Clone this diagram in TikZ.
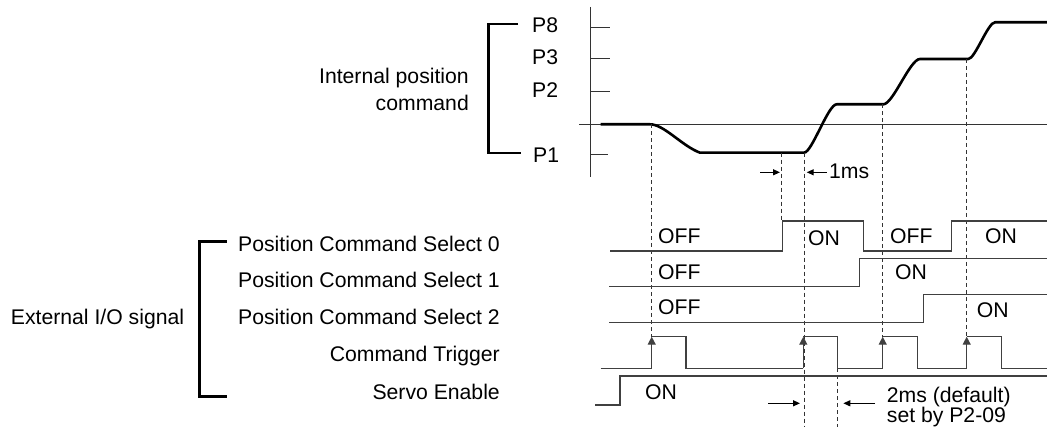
\documentclass[tikz,border=0pt]{standalone}
\usepackage{fontspec}
\setmainfont{Liberation Sans}
\usetikzlibrary{arrows.meta}
\begin{document}
\begin{tikzpicture}[x=1pt,y=-1pt,every node/.style={font=\fontsize{21.2}{24}\selectfont,inner sep=0pt},
  sig/.style={line width=1.3pt,black!75},
  guide/.style={line width=1pt,black!80,dash pattern=on 4pt off 3pt},
  brack/.style={line width=2.4pt},
  gap/.style={line width=1.2pt,-{Triangle[length=7pt,width=6pt]}},
  trig/.style={line width=1.3pt,black!75,-{Triangle[length=8pt,width=8pt]}}]
  \useasboundingbox (0,0) rectangle (1047,427);
  \node[anchor=base east] (ipc1) at (469,83.3) {Internal position};
  \node[anchor=base east] (ipc2) at (469,110.7) {command};
  \draw[brack] (518,24)--(488.3,24)--(488.3,153)--(520.7,153);
  \node[anchor=base west] (p8) at (532,32.3) {P8};
  \node[anchor=base west] (p3) at (532,64.3) {P3};
  \node[anchor=base west] (p2) at (532,97.3) {P2};
  \node[anchor=base west] (p1) at (533,162.3) {P1};
  \draw[line width=0.9pt,black!80] (590.7,7)--(590.7,177);
  \foreach \ty/\tx in {27.3/610,58/610,91.7/610,154/608}
    \draw[line width=0.9pt,black!80] (590.7,\ty)--(\tx,\ty);
  \draw[line width=0.9pt,black!80] (579,124.3)--(1047,124.3);
  \draw[line width=2.6pt,line join=round] (600.7,124.3)--(650,124.3)
    .. controls (664,124.3) and (682,146) .. (700,152.7)--(804,152.7)
    .. controls (812,152.7) and (828,104.3) .. (836.7,104.3)--(883.3,104.3)
    .. controls (893,104.3) and (910,59) .. (920,59)--(968.3,59)
    .. controls (975,59) and (988,22.3) .. (995,22.3)--(1047,22.3);
  \draw[guide] (651.7,124.3)--(651.7,336.7);
  \draw[guide] (781.7,152.7)--(781.7,221);
  \draw[guide] (804,152.7)--(804,427);
  \draw[guide] (837.3,368.3)--(837.3,427);
  \draw[guide] (882.7,104.3)--(882.7,337);
  \draw[guide] (966.7,59)--(966.7,337);
  \draw[gap] (760,172.3)--(780,172.3);
  \draw[gap] (826.7,172.3)--(806.7,172.3);
  \node[anchor=base west] (onems) at (829,178.3) {1ms};
  \node[anchor=base east] (ext) at (184.3,324.3) {External I/O signal};
  \draw[brack] (226.7,241.7)--(199.3,241.7)--(199.3,396.7)--(226.7,396.7);
  \node[anchor=base east] (sel0) at (500,251.5) {Position Command Select 0};
  \node[anchor=base east] (sel1) at (500,288) {Position Command Select 1};
  \node[anchor=base east] (sel2) at (500,324.5) {Position Command Select 2};
  \node[anchor=base east] (ctrg) at (500,362) {Command Trigger};
  \node[anchor=base east] (srvo) at (500,399.5) {Servo Enable};
  \draw[sig] (610,251)--(782.3,251)--(782.3,221)--(863.3,221)--(863.3,251)--(951.7,251)--(951.7,221)--(1047,221);
  \draw[sig] (609.3,286.7)--(859.3,286.7)--(859.3,258.3)--(1047,258.3);
  \draw[sig] (609,322.3)--(923.3,322.3)--(923.3,294.3)--(1047,294.3);
  \draw[sig] (600.7,368.3)--(651.7,368.3);
  \foreach \r/\f/\n in {651.7/686/803.3,803.3/837.3/882.7,882.7/917.3/966.7,966.7/1001.7/1047}{
    \draw[sig] (\r,336.7)--(\f,336.7)--(\f,368.3)--(\n,368.3);
    \draw[trig] (\r,368.3)--(\r,336.7);
  }
  \draw[sig] (595,405)--(620,405)--(620,376)--(1047,376);
  \node[anchor=base west] (s0a) at (658,243.3) {OFF};
  \node[anchor=base west] (s0b) at (808,245.7) {ON};
  \node[anchor=base west] (s0c) at (890,243.3) {OFF};
  \node[anchor=base west] (s0d) at (985,243.3) {ON};
  \node[anchor=base west] (s1a) at (658,280) {OFF};
  \node[anchor=base west] (s1b) at (895,280) {ON};
  \node[anchor=base west] (s2a) at (658,315) {OFF};
  \node[anchor=base west] (s2b) at (976.7,317.3) {ON};
  \node[anchor=base west] (seon) at (645,400) {ON};
  \draw[gap] (768.3,403.3)--(800,403.3);
  \draw[gap] (875,403.3)--(843.3,403.3);
  \node[anchor=base west] (twoms) at (886.7,402.7) {2ms (default)};
  \node[anchor=base west] (p209) at (886.7,422.7) {set by P2-09};
\end{tikzpicture}
\end{document}
